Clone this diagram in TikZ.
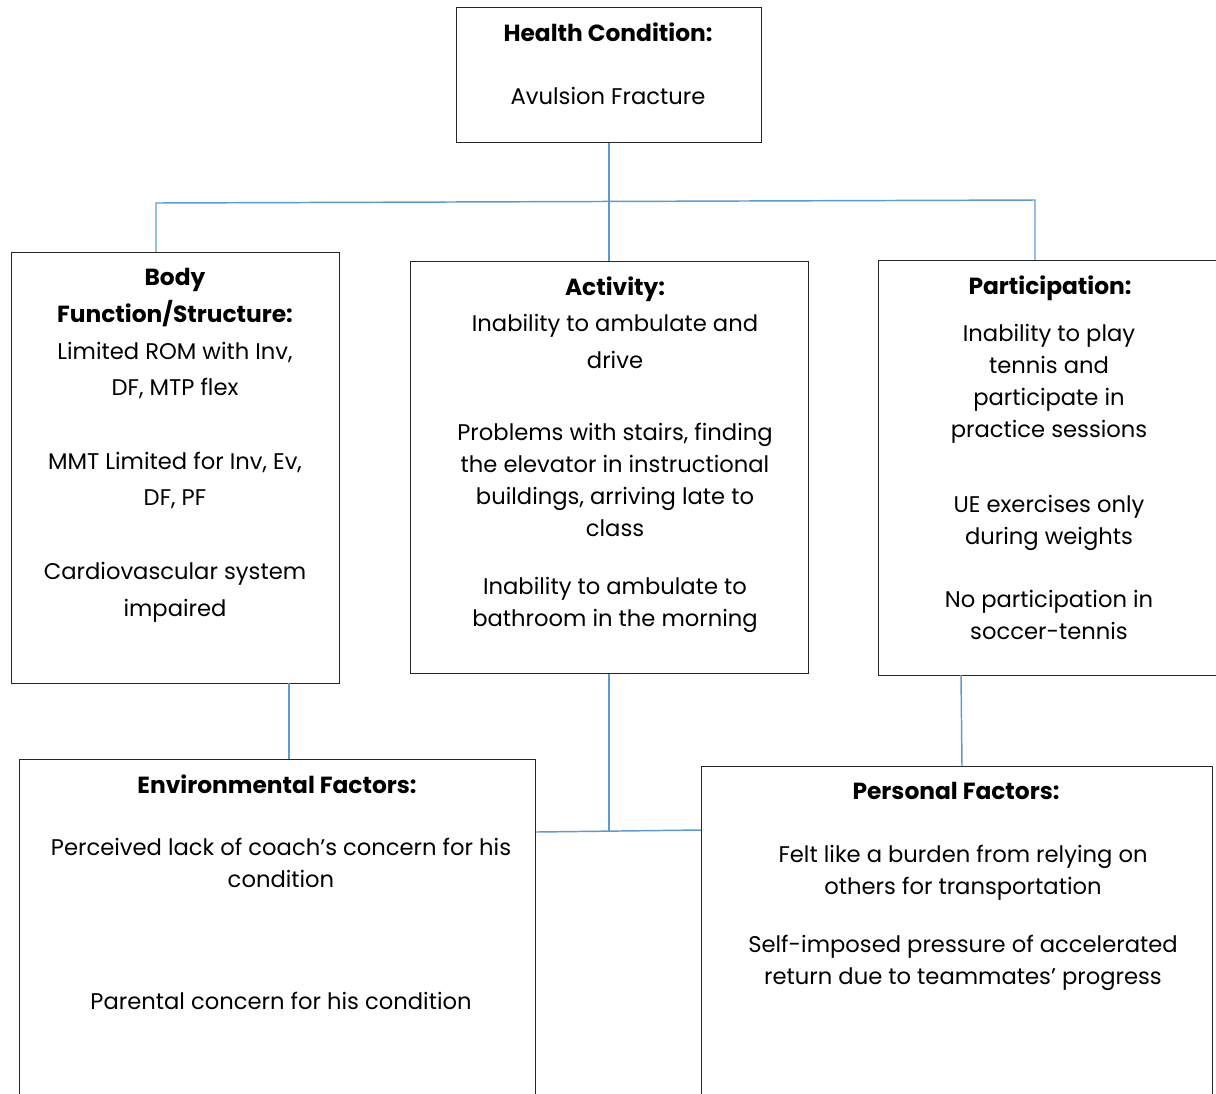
\documentclass[tikz,border=0pt]{standalone}
\usepackage{fontspec}
\setmainfont{Poppins}
\usepackage{tikz}

\definecolor{linkblue}{RGB}{91,155,213}

\tikzset{
  box/.style={draw=black!85, line width=1.1pt, inner sep=0pt, anchor=north west},
  txt/.style={anchor=north, inner sep=0pt, align=center, font=\fontsize{17}{24}\selectfont},
  head/.style={txt, font=\fontsize{17.5}{24}\selectfont\bfseries},
  link/.style={draw=linkblue, line width=1.1pt}
}

\begin{document}
\begin{tikzpicture}[x=0.75pt,y=0.75pt,yscale=-1,xscale=1]
\useasboundingbox (0,0) rectangle (1216,1093);
\clip (0,0) rectangle (1216,1093);

%Boxes
\node[box, minimum width=228.75pt, minimum height=101.25pt] (hc) at (456,7) {};
\node[box, minimum width=246pt, minimum height=323.25pt] (body) at (11,252) {};
\node[box, minimum width=298.5pt, minimum height=309pt] (act) at (410,261) {};
\node[box, minimum width=270pt, minimum height=311.25pt] (part) at (878,260) {};
\node[box, minimum width=387pt, minimum height=270pt] (env) at (19,759) {};
\node[box, minimum width=383.25pt, minimum height=265pt] (pers) at (701,766) {};

%Health condition
\node[head] (hchead) at (608,23) {Health Condition:};
\node[txt] (hctext) at (608,87) {Avulsion Fracture};

%Body function / structure
\node[head, font=\fontsize{17.5}{28}\selectfont\bfseries] (bodyhead) at (175,268) {Body\\Function/Structure:};
\node[txt, font=\fontsize{17}{27}\selectfont] (bodya) at (175,342) {Limited ROM with Inv,\\DF, MTP flex};
\node[txt, font=\fontsize{17}{27}\selectfont] (bodyb) at (175,452) {MMT Limited for Inv, Ev,\\DF, PF};
\node[txt, font=\fontsize{17}{28}\selectfont] (bodyc) at (175,562) {Cardiovascular system\\impaired};

%Activity
\node[head] (acthead) at (615,277) {Activity:};
\node[txt, font=\fontsize{17}{28}\selectfont] (acta) at (615,314) {Inability to ambulate and\\drive};
\node[txt] (actb) at (615,423) {Problems with stairs, finding\\the elevator in instructional\\buildings, arriving late to\\class};
\node[txt] (actc) at (615,577) {Inability to ambulate to\\bathroom in the morning};

%Participation
\node[head] (parthead) at (1050,276) {Participation:};
\node[txt] (parta) at (1049,324) {Inability to play\\tennis and\\participate in\\practice sessions};
\node[txt] (partb) at (1049,495) {UE exercises only\\during weights};
\node[txt] (partc) at (1049,590) {No participation in\\soccer-tennis};

%Environmental factors
\node[head] (envhead) at (277,775) {Environmental Factors:};
\node[txt] (enva) at (281,838) {Perceived lack of coach’s concern for his\\condition};
\node[txt] (envb) at (281,992) {Parental concern for his condition};

%Personal factors
\node[head] (pershead) at (956,782) {Personal Factors:};
\node[txt] (persa) at (963,845) {Felt like a burden from relying on\\others for transportation};
\node[txt] (persb) at (963,935) {Self-imposed pressure of accelerated\\return due to teammates’ progress};

%Connectors
\coordinate (tl) at (156,203);
\coordinate (tr) at (1035,200);
\coordinate (tm) at (609,142);
\coordinate (bm) at (609,831);
\draw[link] (tm |- hc.south) -- (tm |- act.north);
\draw[link] (tl |- body.north) -- (tl) -- (tr) -- (tr |- part.north);
\draw[link] (289,683) -- (289,759);
\draw[link] (bm |- act.south) -- (bm);
\draw[link] (env.east |- 0,832) -- (pers.west |- 0,830);
\draw[link] (961,675) -- (962,766);

\end{tikzpicture}
\end{document}
